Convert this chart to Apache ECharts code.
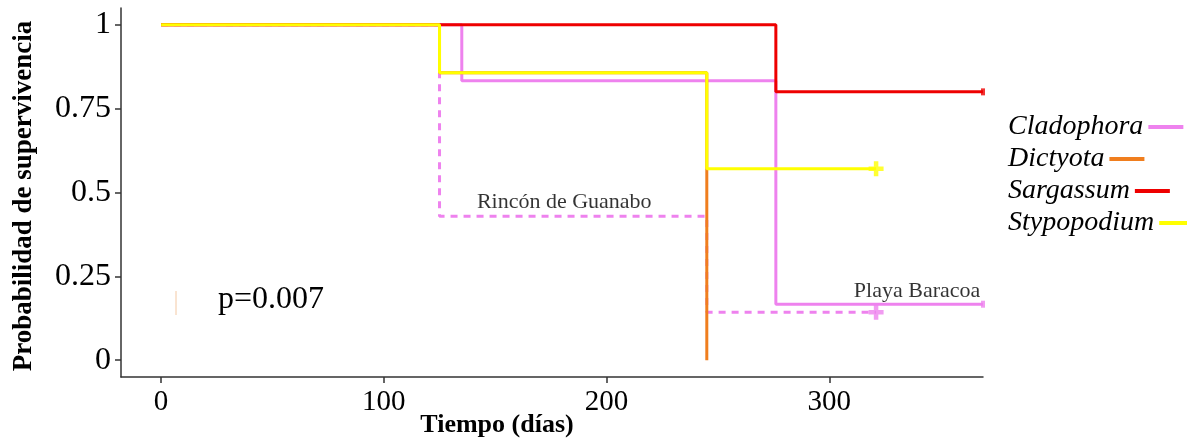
<!DOCTYPE html>
<html>
<head>
<meta charset="utf-8">
<script src="https://cdn.jsdelivr.net/npm/echarts@6/dist/echarts.min.js"></script>
<style>html,body{margin:0;padding:0;background:#fff;}#c{width:1187px;height:442px;}</style>
</head>
<body>
<div id="c"></div>
<script>
// ---- data ----
var xTicks = [0, 100, 200, 300];
var yTicks = [0, 0.25, 0.5, 0.75, 1];
var legendNames = ['Cladophora', 'Dictyota', 'Sargassum', 'Stypopodium'];

// Playa Baracoa (solid)
var cladTimes = [0, 135, 276, 369];
var cladSurv  = [1, 0.833, 0.167, 0.167];
// Rincón de Guanabo (dashed)
var cladRGTimes = [0, 125, 245, 321];
var cladRGSurv  = [1, 0.429, 0.143, 0.143];
var dictTimes = [0, 125, 245];
var dictSurv  = [1, 0.857, 0];
var sargTimes = [0, 276, 369];
var sargSurv  = [1, 0.80, 0.80];
var stypTimes = [0, 125, 245, 321];
var stypSurv  = [1, 0.857, 0.571, 0.571];

// censored observations
var censorPlus = [[321, 0.571, 'Stypopodium'], [321, 0.143, 'CladRG']];
var censorEdge = [[369, 0.80, 'Sargassum'], [369, 0.167, 'Cladophora']];

var annotations = [
  { text: 'Rincón de Guanabo', x: 181, y: 0.47 },
  { text: 'Playa Baracoa', x: 368, y: 0.205 }
];
var pValueText = 'p=0.007';

// ---- build ----
function pairs(t, s) { return t.map(function (v, i) { return [v, s[i]]; }); }
var colors = {
  Cladophora: '#EE82EE', CladRG: '#EE82EE', Dictyota: '#F07E1E',
  Sargassum: '#EE0000', Stypopodium: '#FFFF00'
};
var serif = 'Liberation Serif';
var plusPath = 'path://M3.5,0h3v3.5h3.5v3h-3.5v3.5h-3v-3.5h-3.5v-3h3.5z';

function stepSeries(name, t, s, color, dashed, z) {
  return {
    name: name, type: 'line', step: 'end', data: pairs(t, s),
    showSymbol: false, symbol: 'none', z: z, clip: false,
    lineStyle: { color: color, width: 3, type: dashed ? [7, 6] : 'solid', cap: 'butt' },
    itemStyle: { color: color },
    animation: false
  };
}

var series = [
  stepSeries('Cladophora (Rincón de Guanabo)', cladRGTimes, cladRGSurv, colors.CladRG, true, 2),
  stepSeries('Cladophora', cladTimes, cladSurv, colors.Cladophora, false, 3),
  stepSeries('Dictyota', dictTimes, dictSurv, colors.Dictyota, false, 4),
  stepSeries('Sargassum', sargTimes, sargSurv, colors.Sargassum, false, 5),
  stepSeries('Stypopodium', stypTimes, stypSurv, colors.Stypopodium, false, 6),
  {
    name: 'censorPlus', type: 'scatter', z: 7, symbol: plusPath, symbolSize: 15,
    data: censorPlus.map(function (d) { return { value: [d[0], d[1]], itemStyle: { color: colors[d[2]] } }; }),
    animation: false, silent: true
  },
  {
    name: 'censorEdge', type: 'scatter', z: 7, symbol: 'rect', symbolSize: [4, 7],
    data: censorEdge.map(function (d) { return { value: [d[0], d[1]], itemStyle: { color: colors[d[2]] } }; }),
    animation: false, silent: true
  },
  {
    name: 'annot', type: 'scatter', z: 8, symbolSize: 1, clip: false, silent: true, animation: false,
    itemStyle: { color: 'rgba(0,0,0,0)' },
    data: annotations.map(function (a, i) {
      return {
        value: [a.x, a.y],
        label: {
          show: true, formatter: a.text, color: '#000', textBorderWidth: 0,
          fontFamily: serif, fontSize: 22,
          position: i === 0 ? 'inside' : 'left', align: i === 0 ? 'center' : 'right',
          distance: 0
        }
      };
    })
  }
];

var legends = legendNames.map(function (n, i) {
  return {
    data: [n], orient: 'horizontal', left: 1008, top: 112 + i * 32,
    align: 'right', icon: 'rect', itemWidth: 35, itemHeight: 4, itemGap: 0,
    selectedMode: false, padding: 0,
    textStyle: { fontFamily: serif, fontStyle: 'italic', fontSize: 28, color: '#000', lineHeight: 30 }
  };
});

var chart = echarts.init(document.getElementById('c'), null, { renderer: 'canvas' });
chart.setOption({
  backgroundColor: '#fff',
  animation: false,
  grid: { left: 121, right: 204, top: 8, bottom: 65, containLabel: false },
  xAxis: {
    type: 'value', min: -18, max: 369,
    splitLine: { show: false },
    axisLine: { show: true, onZero: false, lineStyle: { color: '#333', width: 1.5 } },
    axisTick: { show: true, length: 6, customValues: xTicks, lineStyle: { color: '#333', width: 1.5 } },
    axisLabel: { customValues: xTicks, color: '#000', fontFamily: serif, fontSize: 29, margin: 11 }
  },
  yAxis: {
    type: 'value', min: -0.05, max: 1.05,
    splitLine: { show: false },
    axisLine: { show: true, onZero: false, lineStyle: { color: '#333', width: 1.5 } },
    axisTick: { show: true, length: 6, customValues: yTicks, lineStyle: { color: '#333', width: 1.5 } },
    axisLabel: { customValues: yTicks, color: '#000', fontFamily: serif, fontSize: 32, margin: 10 }
  },
  legend: legends,
  graphic: [
    { type: 'text', x: 24, y: 196, rotation: Math.PI / 2, style: { text: 'Probabilidad de supervivencia', font: 'bold 27px ' + serif, fill: '#000', align: 'center', verticalAlign: 'middle' } },
    { type: 'text', x: 497, y: 425, style: { text: 'Tiempo (días)', font: 'bold 26px ' + serif, fill: '#000', align: 'center', verticalAlign: 'middle' } },
    { type: 'text', x: 218, y: 300, style: { text: pValueText, font: '32px ' + serif, fill: '#000', align: 'left', verticalAlign: 'middle' } },
    { type: 'line', shape: { x1: 176, y1: 291, x2: 176, y2: 315 }, style: { stroke: '#F4C9A4', lineWidth: 1 } }
  ],
  series: series
});
</script>
</body>
</html>
